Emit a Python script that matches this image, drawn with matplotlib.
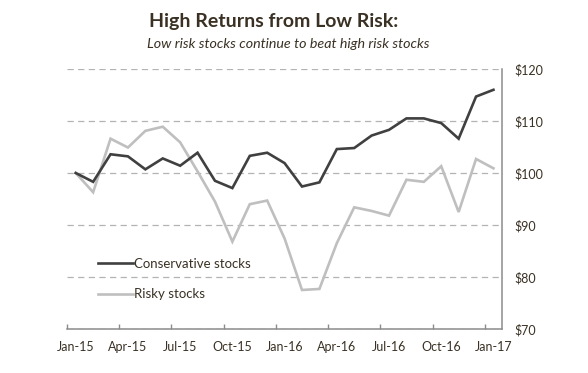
#!/usr/bin/env python3
"""High Returns from Low Risk - conservative vs risky stocks, growth of $100."""

import numpy as np
import matplotlib
matplotlib.use("Agg")
import matplotlib.pyplot as plt

# monthly values, Jan-15 .. Jan-17
months = ["Jan-15", "Feb-15", "Mar-15", "Apr-15", "May-15", "Jun-15", "Jul-15",
          "Aug-15", "Sep-15", "Oct-15", "Nov-15", "Dec-15", "Jan-16", "Feb-16",
          "Mar-16", "Apr-16", "May-16", "Jun-16", "Jul-16", "Aug-16", "Sep-16",
          "Oct-16", "Nov-16", "Dec-16", "Jan-17"]
conservative = [100.0, 98.3, 103.6, 103.2, 100.7, 102.8, 101.4, 103.9, 98.5,
                97.1, 103.3, 103.9, 101.9, 97.4, 98.2, 104.6, 104.8, 107.2,
                108.3, 110.5, 110.5, 109.6, 106.6, 114.7, 116.0]
risky = [100.0, 96.3, 106.6, 104.9, 108.1, 108.9, 105.9, 100.3, 94.5,
         86.8, 94.0, 94.7, 87.4, 77.5, 77.7, 86.5, 93.4, 92.7, 91.8,
         98.7, 98.3, 101.3, 92.5, 102.7, 100.9]
y_ticks = [70, 80, 90, 100, 110, 120]

TEXT = "#3a3124"
FONT = "Lato"

fig = plt.figure(figsize=(5.88, 3.73), dpi=100)
ax = fig.add_axes([0.114, 0.118, 0.74, 0.697])

x = np.arange(len(months))
ax.plot(x, conservative, color="#404040", lw=1.9, label="Conservative stocks",
        solid_joinstyle="miter", zorder=3)
ax.plot(x, risky, color="#bfbfbf", lw=1.9, label="Risky stocks",
        solid_joinstyle="miter", zorder=2)

ax.set_xlim(-0.5, len(months) - 0.5)
ax.set_ylim(70, 120)

# category axis: ticks between months, labels every quarter
ax.set_xticks(np.arange(-0.5, len(months) - 1, 3))
ax.set_xticklabels([])
ax.set_xticks(x[::3], minor=True)
ax.set_xticklabels(months[::3], minor=True, fontsize=9, color=TEXT, family=FONT)
ax.tick_params(axis="x", which="major", direction="in", length=3.5,
               width=1, color="#8c8c8c")
ax.tick_params(axis="x", which="minor", length=0, pad=9)

ax.yaxis.tick_right()
ax.set_yticks(y_ticks)
ax.set_yticklabels([f"${v}" for v in y_ticks], fontsize=9, color=TEXT, family=FONT)
ax.tick_params(axis="y", length=0, pad=9)

for side in ["top", "left"]:
    ax.spines[side].set_visible(False)
for side in ["bottom", "right"]:
    ax.spines[side].set_color("#8c8c8c")
    ax.spines[side].set_linewidth(1.1)

ax.grid(axis="y", color="#b3b3b3", lw=0.9, linestyle=(0, (5, 3.5)))
ax.set_axisbelow(True)

leg = ax.legend(loc="lower left", bbox_to_anchor=(0.045, 0.065), frameon=False,
                handlelength=2.6, handletextpad=0.1, labelspacing=1.4,
                prop={"family": FONT, "size": 9.5})
for t in leg.get_texts():
    t.set_color(TEXT)

fig.text(0.465, 0.942, "High Returns from Low Risk:", ha="center", va="center",
         fontsize=14, fontweight="bold", color=TEXT, family=FONT)
fig.text(0.49, 0.882, "Low risk stocks continue to beat high risk stocks",
         ha="center", va="center", fontsize=10.3, style="italic", color=TEXT,
         family=FONT)

fig.savefig("out.png", dpi=100)
